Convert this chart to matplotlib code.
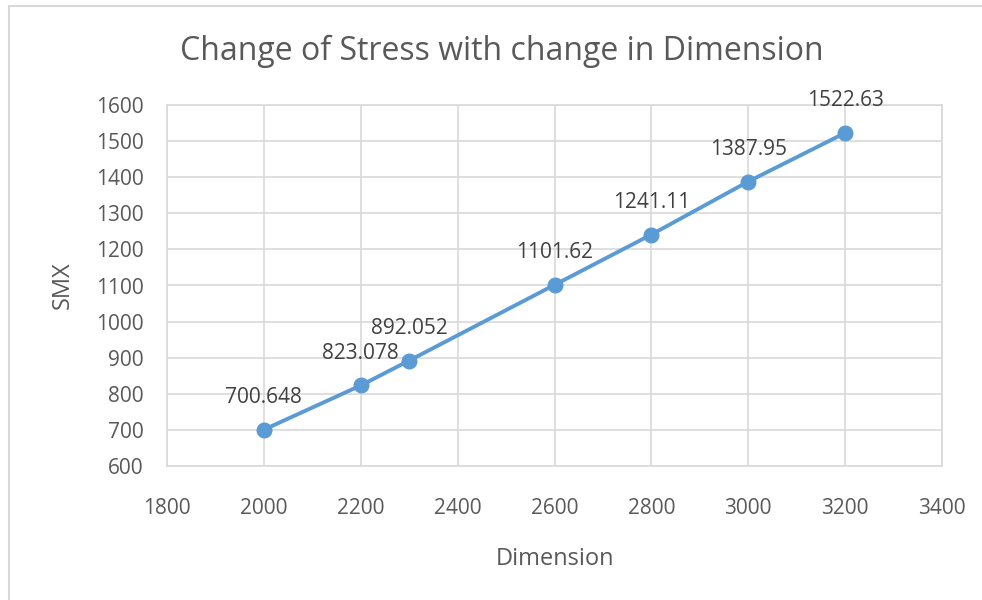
import matplotlib.pyplot as plt
from matplotlib.lines import Line2D

dimension = [2000, 2200, 2300, 2600, 2800, 3000, 3200]
smx = [700.648, 823.078, 892.052, 1101.62, 1241.11, 1387.95, 1522.63]
labels = ["700.648", "823.078", "892.052", "1101.62", "1241.11", "1387.95", "1522.63"]

plt.rcParams['font.family'] = ['Open Sans', 'DejaVu Sans']
blue = '#5B9BD5'
grey_txt = '#595959'
grid_c = '#D9D9D9'

fig = plt.figure(figsize=(9.82, 6), dpi=100)
ax = fig.add_axes([167/982, 1 - 466/600, (942 - 167)/982, (466 - 105)/600])

ax.plot(dimension, smx, color=blue, lw=2.8, marker='o', ms=10.5, zorder=3)
for x, y, t in zip(dimension, smx, labels):
    ax.annotate(t, (x, y), xytext=(0, 23), textcoords='offset points',
                ha='center', va='center', fontsize=15, color='#404040')

ax.set_xlim(1800, 3400)
ax.set_ylim(600, 1600)
ax.set_xticks(range(1800, 3401, 200))
ax.set_yticks(range(600, 1601, 100))
ax.grid(True, color=grid_c, lw=1.2)
ax.set_axisbelow(True)
for s in ax.spines.values():
    s.set_color(grid_c)
    s.set_linewidth(1.2)
ax.tick_params(length=0, labelsize=15, colors=grey_txt)
ax.tick_params(axis='y', pad=17)
ax.tick_params(axis='x', pad=23)

ax.set_xlabel("Dimension", fontsize=17, color=grey_txt, labelpad=20)
ax.set_ylabel("SMX", fontsize=17, color=grey_txt, labelpad=15)
fig.text(502/982, 1 - 51/600, "Change of Stress with change in Dimension",
         ha='center', va='center', fontsize=23, color=grey_txt)

# chart area border (left and top edges visible)
fig.add_artist(Line2D([9/982, 9/982], [0, 1 - 6/600], transform=fig.transFigure, color=grid_c, lw=1.5))
fig.add_artist(Line2D([9/982, 1], [1 - 6/600, 1 - 6/600], transform=fig.transFigure, color=grid_c, lw=1.5))

fig.savefig("out.png", dpi=100)
